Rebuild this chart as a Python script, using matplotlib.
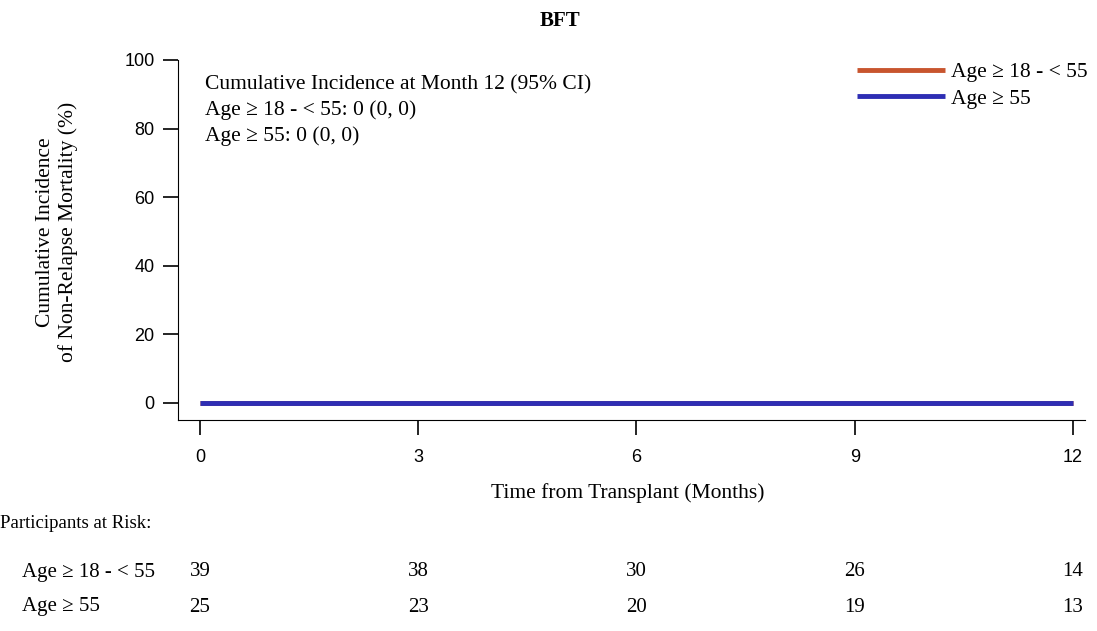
import matplotlib
matplotlib.use("Agg")
import matplotlib.pyplot as plt

# cumulative incidence of non-relapse mortality by age group
months = [0, 12]
ci_young = [0, 0]
ci_old = [0, 0]
groups = ["Age \u2265 18 - < 55", "Age \u2265 55"]
risk_times = [0, 3, 6, 9, 12]
at_risk_young = [39, 38, 30, 26, 14]
at_risk_old = [25, 23, 20, 19, 13]
summary = ["Cumulative Incidence at Month 12 (95% CI)",
           "Age \u2265 18 - < 55: 0 (0, 0)",
           "Age \u2265 55: 0 (0, 0)"]

red = "#C8552E"
blue = "#2E2EB4"
W, H = 1097, 631

plt.rcParams["font.family"] = ["Liberation Serif", "DejaVu Serif"]
plt.rcParams["font.size"] = 15.5

fig = plt.figure(figsize=(W / 100, H / 100), dpi=100)
ax = fig.add_axes([178 / W, 1 - 420 / H, (1085 - 178) / W, 360 / H])

ax.plot(months, ci_young, color=red, lw=3.5, label=groups[0], solid_capstyle="butt")
ax.plot(months, ci_old, color=blue, lw=3.5, label=groups[1], solid_capstyle="butt")

ax.set_xlim(-0.302, 12.165)
ax.set_ylim(-4.96, 100)
ax.set_xticks(risk_times)
ax.set_yticks([0, 20, 40, 60, 80, 100])
for lab in ax.get_xticklabels() + ax.get_yticklabels():
    lab.set_family(["Liberation Sans", "DejaVu Sans"])
    lab.set_fontsize(13)
ax.spines["top"].set_visible(False)
ax.spines["right"].set_visible(False)
ax.tick_params(length=11, width=1.2, pad=6)
ax.tick_params(axis="x", pad=10)

fig.text(560 / W, 1 - 21 / H, "BFT", fontweight="bold", fontsize=15,
         ha="center", va="center")

ax.set_xlabel("Time from Transplant (Months)", va="center")
ax.xaxis.set_label_coords((628 - 178) / 907, (420 - 493) / 360)
ax.set_ylabel("Cumulative Incidence\nof Non-Relapse Mortality (%)", va="center")
ax.yaxis.set_label_coords((57 - 178) / 907, (420 - 232) / 360)

ax.legend(loc="upper right", bbox_to_anchor=(1088 / W, 1 - 62 / H),
          bbox_transform=fig.transFigure, frameon=False, borderpad=0,
          borderaxespad=0, handlelength=4.1, handletextpad=0.3,
          labelspacing=0.3)

for row_y, line in zip([85, 110, 136], summary):
    fig.text(205 / W, 1 - row_y / H, line, va="center", ha="left")

# at-risk table below the axis
fig.text(0 / W, 1 - 523 / H, "Participants at Risk:", va="center", ha="left",
         fontsize=13.5)
for row_y, label, counts in [(572, groups[0], at_risk_young), (607, groups[1], at_risk_old)]:
    fy = 1 - row_y / H
    fig.text(22 / W, fy, label, va="center", ha="left", fontsize=15)
    for t, n in zip(risk_times, counts):
        xd = ax.transData.transform((t, 0))[0]
        xf = fig.transFigure.inverted().transform((xd, 0))[0]
        fig.text(xf, fy, str(n), va="center", ha="center", fontsize=15)

fig.savefig("out.png", dpi=100)
